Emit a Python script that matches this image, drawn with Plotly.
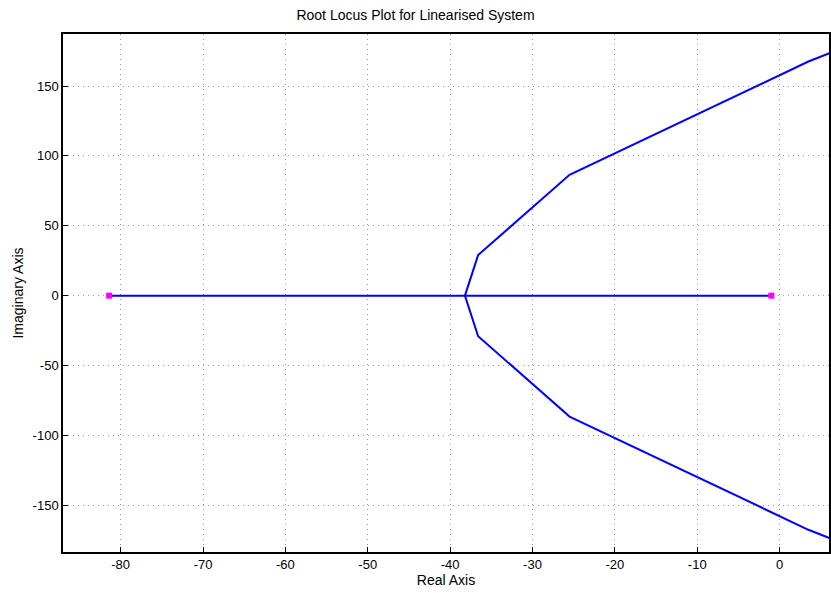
import plotly.graph_objects as go

# Open-loop poles on the real axis
pole_re = [-81.4, -1.0]
pole_im = [0.0, 0.0]

# Real-axis segment of the locus (between the two poles)
real_seg_re = [-81.4, -38.2, -1.0]
real_seg_im = [0.0, 0.0, 0.0]

# Upper complex branch leaving the breakaway point
upper_re = [-38.2, -36.6, -25.5, 3.5, 6.5]
upper_im = [0.0, 29.0, 86.5, 167.5, 174.5]

# Lower branch is the complex conjugate of the upper one
lower_re = list(upper_re)
lower_im = [-v for v in upper_im]

x_ticks = [-80, -70, -60, -50, -40, -30, -20, -10, 0]
y_ticks = [-150, -100, -50, 0, 50, 100, 150]

blue = "#0000ff"
font_family = "Liberation Sans, Arial, Helvetica, sans-serif"

fig = go.Figure()
for xs, ys in [(real_seg_re, real_seg_im), (upper_re, upper_im), (lower_re, lower_im)]:
    fig.add_trace(go.Scatter(x=xs, y=ys, mode="lines",
                             line=dict(color=blue, width=2), showlegend=False,
                             hoverinfo="skip"))
fig.add_trace(go.Scatter(x=pole_re, y=pole_im, mode="markers",
                         marker=dict(symbol="square", size=6, color="#ff00ff",
                                     line=dict(width=0)),
                         showlegend=False))

axis_common = dict(
    showline=True, linecolor="black", linewidth=1.5, mirror=True,
    ticks="inside", ticklen=5, tickcolor="black", tickwidth=1,
    showgrid=True, gridcolor="#9a9a9a", griddash="1px,4px", gridwidth=1,
    zeroline=False, tickfont=dict(family=font_family, size=13, color="black"),
)

fig.update_xaxes(range=[-87.0, 6.0], tickvals=x_ticks,
                 ticktext=[str(v) for v in x_ticks],
                 title=dict(text="Real Axis", standoff=2,
                            font=dict(family=font_family, size=14, color="black")),
                 **axis_common)
fig.update_yaxes(range=[-183.4, 187.2], tickvals=y_ticks,
                 ticktext=[str(v) for v in y_ticks],
                 title=dict(text="Imaginary Axis", standoff=6,
                            font=dict(family=font_family, size=14, color="black")),
                 **axis_common)

fig.update_layout(
    width=831, height=593,
    margin=dict(l=63, r=0, t=34, b=41),
    plot_bgcolor="white", paper_bgcolor="white",
    title=dict(text="Root Locus Plot for Linearised System", x=0.5, xanchor="center",
               y=0.975, yanchor="middle",
               font=dict(family=font_family, size=14, color="black")),
    font=dict(family=font_family, color="black"),
)

fig.write_html("out.html")
